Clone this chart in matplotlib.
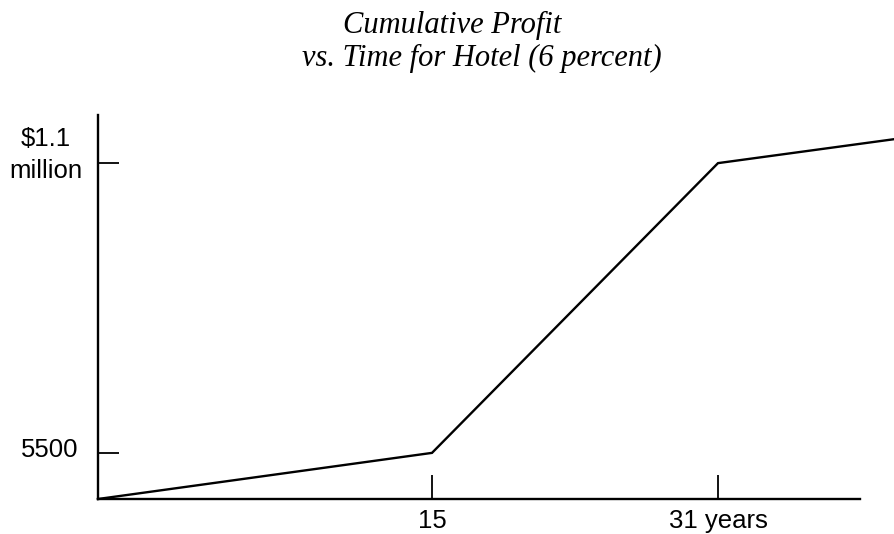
import numpy as np
import matplotlib
matplotlib.use("Agg")
import matplotlib.pyplot as plt

# data (schematic axes, not to scale)
years = [0, 15, 31, 40]
profit = [0, 5500, 1100000, 1200000]

xtick_vals = [15, 31]
xtick_labels = ["15", "31 years"]
ytick_vals = [5500, 1100000]
ytick_labels = ["5500", "$1.1\nmillion"]

title_1 = "Cumulative Profit"
title_2 = "vs. Time for Hotel (6 percent)"

# piecewise scale anchors: value -> drawn distance (px) from the axis origin
x_anchor_val = [0, 15, 31, 40]
x_anchor_pos = [0, 334, 620, 797]
y_anchor_val = [0, 5500, 1100000, 1300000]
y_anchor_pos = [0, 46, 335, 383]


def make_scale(vals, pos):
    def fwd(v):
        return np.interp(v, vals, pos)

    def inv(p):
        return np.interp(p, pos, vals)
    return fwd, inv


fig = plt.figure(figsize=(8.95, 5.34), dpi=100)
ax = fig.add_axes([98 / 895, 35 / 534, (860 - 98) / 895, (499 - 115) / 534])

ax.set_xscale("function", functions=make_scale(x_anchor_val, x_anchor_pos))
ax.set_yscale("function", functions=make_scale(y_anchor_val, y_anchor_pos))

ax.plot(years, profit, color="black", lw=1.7, clip_on=False, solid_joinstyle="miter")

ax.set_xlim(0, np.interp(762, x_anchor_pos, x_anchor_val))
ax.set_ylim(0, 1300000)

for s in ["top", "right"]:
    ax.spines[s].set_visible(False)
for s in ["left", "bottom"]:
    ax.spines[s].set_linewidth(1.7)

ax.set_xticks(xtick_vals)
ax.set_xticklabels(xtick_labels)
ax.set_yticks(ytick_vals)
ax.set_yticklabels([])
ax.minorticks_off()

ax.tick_params(axis="x", direction="in", length=17, width=1.3, pad=7,
               labelsize=18.5)
ax.tick_params(axis="y", direction="in", length=15, width=1.3)
for lbl in ax.get_xticklabels():
    lbl.set_fontfamily("Liberation Sans")

# y labels drawn by hand so the two-line one can sit a bit above its tick
label_shift = [(-14, 2), (-11, 6)]   # points
for val, txt, (dx, dy) in zip(ytick_vals, ytick_labels, label_shift):
    ax.annotate(txt, xy=(0, val), xycoords=("axes fraction", "data"),
                xytext=(dx, dy), textcoords="offset points",
                ha="right", va="center", multialignment="center",
                linespacing=1.4, fontsize=18.5, family="Liberation Sans",
                annotation_clip=False)

tfont = dict(family="Liberation Serif", style="italic", fontsize=22)
fig.text(452 / 895, 1 - 33 / 534, title_1, ha="center", va="baseline", **tfont)
fig.text(482 / 895, 1 - 66 / 534, title_2, ha="center", va="baseline", **tfont)

fig.savefig("out.png", dpi=100)
